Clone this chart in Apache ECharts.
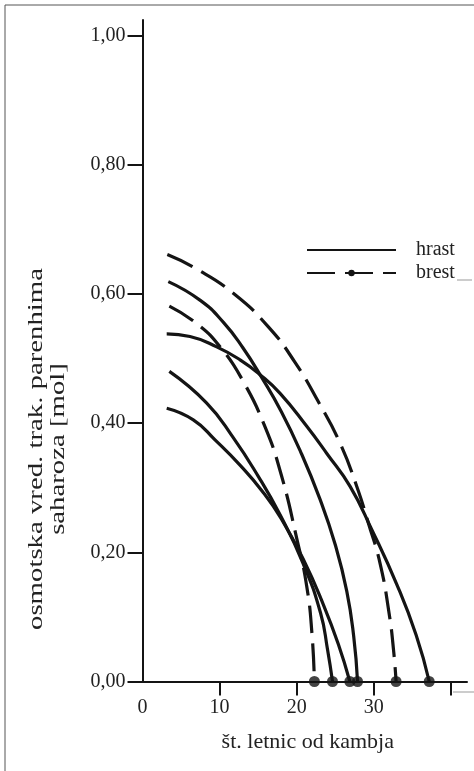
<!DOCTYPE html>
<html>
<head>
<meta charset="utf-8">
<script src="https://cdn.jsdelivr.net/npm/echarts@6/dist/echarts.min.js"></script>
<style>
  html, body { margin: 0; padding: 0; background: #fff; }
  #chart { width: 474px; height: 771px; }
</style>
</head>
<body>
<div id="chart"></div>
<script>
// Axis ticks
const yTicks = [0, 0.2, 0.4, 0.6, 0.8, 1.0];
const xTicks = [10, 20, 30, 40];
const xLabels = [0, 10, 20, 30];

// brest (dashed) curves: [years from cambium, osmotic value]
const brestA = [[3.22, 0.661], [6.81, 0.640], [11.78, 0.601], [16.33, 0.549], [19.79, 0.494], [22.82, 0.433], [25.63, 0.369], [27.80, 0.302], [29.31, 0.245], [30.82, 0.183], [32.0, 0.105], [32.6, 0.045], [32.9, 0]];
const brestB = [[3.48, 0.581], [7.03, 0.554], [10.06, 0.518], [13.0, 0.466], [15.9, 0.394], [18.0, 0.320], [20.0, 0.222], [21.3, 0.148], [22.0, 0.072], [22.3, 0]];

// hrast (solid) curves
const hrastC = [[3.35, 0.619], [7.5, 0.590], [10.5, 0.556], [13.0, 0.517], [15.5, 0.470], [18.0, 0.418], [20.5, 0.356], [23.0, 0.283], [25.0, 0.212], [26.5, 0.140], [27.4, 0.070], [27.9, 0]];
const hrastD = [[3.14, 0.538], [6.16, 0.534], [9.63, 0.518], [12.66, 0.498], [15.25, 0.475], [17.85, 0.446], [21.31, 0.395], [23.91, 0.353], [26.93, 0.302], [29.75, 0.235], [33.0, 0.150], [35.5, 0.072], [37.2, 0]];
const hrastE = [[3.48, 0.480], [8.33, 0.431], [11.75, 0.378], [15.0, 0.318], [17.85, 0.258], [20.83, 0.183], [23.1, 0.106], [24.0, 0.050], [24.65, 0]];
const hrastF = [[3.14, 0.423], [6.59, 0.405], [9.41, 0.374], [12.65, 0.335], [15.51, 0.295], [18.0, 0.252], [20.83, 0.190], [23.5, 0.118], [25.4, 0.058], [26.9, 0]];

const serif = '"Liberation Serif", "DejaVu Serif", serif';
const ink = '#141414';

function curve(name, data, dashed) {
    return {
        name: name,
        type: 'line',
        data: data,
        symbol: 'none',
        smooth: 0.5,
        lineStyle: { color: ink, width: 3.2, type: dashed ? [28, 10] : 'solid' },
        itemStyle: { color: ink },
        z: 2
    };
}

document.addEventListener('DOMContentLoaded', function() {
    const chart = echarts.init(document.getElementById('chart'), null, { renderer: 'canvas' });

    const allCurves = [brestA, brestB, hrastC, hrastD, hrastE, hrastF];
    const endDots = allCurves.map(c => c[c.length - 1]);

    const option = {
        animation: false,
        backgroundColor: '#fff',
        grid: { left: 142.5, right: 7, top: 20, bottom: 89.5 },
        legend: {
            orient: 'vertical',
            left: 306,
            top: 240,
            padding: 0,
            itemWidth: 89,
            itemHeight: 8,
            itemGap: 3,
            selectedMode: false,
            textStyle: { fontFamily: serif, fontSize: 20, color: '#222', padding: [0, 0, 0, 15] },
            data: [
                { name: 'hrast', itemStyle: { color: 'rgba(0,0,0,0)', borderWidth: 0 } },
                { name: 'brest', itemStyle: { color: ink } }
            ]
        },
        xAxis: {
            type: 'value',
            min: 0,
            max: 42.1,
            interval: 10,
            name: 'št. letnic od kambja',
            nameLocation: 'middle',
            nameGap: 50,
            nameTextStyle: { fontFamily: serif, fontSize: 22, color: '#222', padding: [0, 0, 0, 6] },
            axisLine: { lineStyle: { color: ink, width: 2 } },
            axisTick: { customValues: xTicks, length: 14, lineStyle: { color: ink, width: 2 } },
            axisLabel: { customValues: xLabels, margin: 16, fontFamily: serif, fontSize: 20, color: '#222' },
            splitLine: { show: false }
        },
        yAxis: {
            type: 'value',
            min: 0,
            max: 1.024,
            interval: 0.2,
            axisLine: { show: true, lineStyle: { color: ink, width: 2 } },
            axisTick: { show: true, customValues: yTicks, length: 15, lineStyle: { color: ink, width: 2 } },
            axisLabel: {
                customValues: yTicks,
                margin: 17,
                fontFamily: serif,
                fontSize: 20,
                color: '#222',
                formatter: v => v.toFixed(2).replace('.', ',')
            },
            splitLine: { show: false }
        },
        series: [
            curve('brest', brestA, true),
            curve('brest', brestB, true),
            curve('hrast', hrastC, false),
            curve('hrast', hrastD, false),
            curve('hrast', hrastE, false),
            curve('hrast', hrastF, false),
            {
                name: 'konec',
                type: 'scatter',
                data: endDots,
                symbol: 'circle',
                symbolSize: 11,
                itemStyle: { color: ink },
                z: 3
            }
        ],
        graphic: [
            // scan frame
            { type: 'line', shape: { x1: 5, y1: 5, x2: 474, y2: 5 }, style: { stroke: '#555', lineWidth: 1 } },
            { type: 'line', shape: { x1: 5, y1: 5, x2: 5, y2: 771 }, style: { stroke: '#555', lineWidth: 1 } },
            // stray marks from the scan
            { type: 'line', shape: { x1: 457, y1: 280, x2: 472, y2: 280 }, style: { stroke: '#999', lineWidth: 1 } },
            { type: 'line', shape: { x1: 453, y1: 692, x2: 474, y2: 692 }, style: { stroke: '#999', lineWidth: 1 } },
            // y axis title, stretched like the scan
            {
                type: 'text',
                x: 47.5,
                y: 449,
                rotation: Math.PI / 2,
                scaleX: 1.37,
                style: {
                    text: 'osmotska vred. trak. parenhima\nsaharoza [mol]',
                    font: '21px ' + serif,
                    fill: '#222',
                    align: 'center',
                    verticalAlign: 'middle',
                    lineHeight: 22
                }
            }
        ]
    };

    chart.setOption(option);
});
</script>
</body>
</html>
